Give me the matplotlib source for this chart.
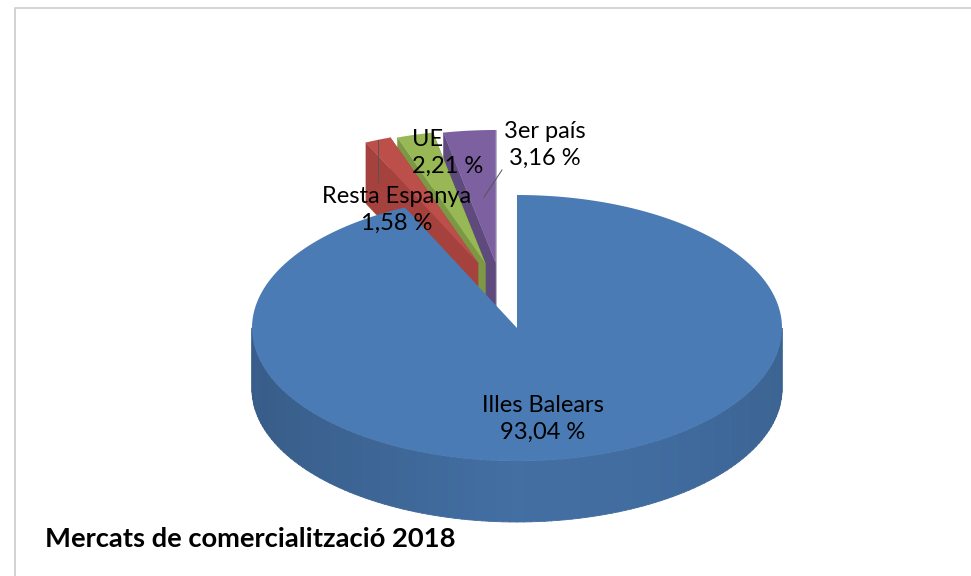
import numpy as np
import matplotlib
matplotlib.use('Agg')
import matplotlib.pyplot as plt
from matplotlib.patches import Polygon

plt.rcParams['font.family'] = ['Lato', 'DejaVu Sans']

categories = ['Illes Balears', 'Resta Espanya', 'UE', '3er país']
values = [93.04, 1.58, 2.21, 3.16]
value_labels = ['93,04 %', '1,58 %', '2,21 %', '3,16 %']
title = 'Mercats de comercialització 2018'

top_colors = ['#4a7bb5', '#bd4f4b', '#98b855', '#7d60a0']
wall_colors = ['#3f6796', '#a5423e', '#7d9845', '#5f4a7e']

# pie geometry in pixels
cx, cy = 517, 328
rx, ry = 265, 133
depth = 61
explode_x = 0.24
shift = (-15, -65)

label_pos = [(543, 419), (397, 210), (448, 153), (545, 145)]
label_align = ['center', 'center', 'left', 'center']
leaders = [((378, 140), (378, 182)), ((502, 170), (484, 197))]


def rim(a0, a1, ox=0, oy=0, n=120):
    # angles in degrees clockwise from the top
    t = np.radians(np.linspace(a0, a1, n))
    return np.column_stack([ox + rx * np.sin(t), oy - ry * np.cos(t)])


fig = plt.figure(figsize=(9.71, 5.76), dpi=100)
ax = fig.add_axes([0, 0, 1, 1])
ax.set_xlim(0, 971)
ax.set_ylim(576, 0)
ax.axis('off')

# picture frame
ax.plot([15, 15, 971], [576, 8, 8], color='#d0d0d0', lw=1.3, zorder=1)

# slices run clockwise, first one starts at the top
angles = np.cumsum([0] + values) / sum(values) * 360

# pulled out slices first, the big one is drawn over their lower part
# red sits in front of green, green in front of purple
for i in [3, 2, 1]:
    a0, a1 = angles[i], angles[i + 1]
    mid = np.radians((a0 + a1) / 2)
    ox = cx + shift[0] + explode_x * rx * np.sin(mid)
    oy = cy + shift[1]
    apex = np.array([[ox, oy]])
    arc = rim(a0, a1, ox, oy, 20)
    z = 2 + (4 - i) * 0.1
    for edge in [arc[0], arc[-1]]:
        wall = [apex[0], edge, edge + [0, depth], apex[0] + [0, depth]]
        ax.add_patch(Polygon(wall, fc=wall_colors[i], ec=wall_colors[i], lw=0.3, zorder=z))
    ax.add_patch(Polygon(np.vstack([apex, arc]), fc=top_colors[i], ec='none', zorder=z + 0.05))

# rim of the big slice, shaded strip by strip
shade_a = np.array([90, 125, 150, 180, 215, 250, 270])
shade_v = np.array([0.80, 0.84, 0.88, 0.90, 0.82, 0.76, 0.76])
steps = np.arange(90, 270, 1.5)
for a in steps:
    front = rim(a, a + 1.6, cx, cy, 4)
    strip = np.vstack([front, (front + [0, depth])[::-1]])
    k = np.interp(a, shade_a, shade_v)
    col = np.array(matplotlib.colors.to_rgb(top_colors[0])) * k
    ax.add_patch(Polygon(strip, fc=col, ec=col, lw=0.6, zorder=3))

top = np.vstack([[[cx, cy]], rim(angles[0], angles[1], cx, cy, 400)])
ax.add_patch(Polygon(top, fc=top_colors[0], ec='none', zorder=3.5))

for a, b in leaders:
    ax.plot([a[0], b[0]], [a[1], b[1]], color='#555555', lw=0.7, zorder=4)

for name, val, (x, y), al in zip(categories, value_labels, label_pos, label_align):
    ax.text(x, y, name + '\n' + val, ha='center', va='center', ma=al, fontsize=17,
            linespacing=1.3, color='black', zorder=5)

ax.text(45, 539, title, ha='left', va='center', fontsize=19.7, fontweight='bold', color='black', zorder=5)

fig.savefig('out.png', dpi=100)
